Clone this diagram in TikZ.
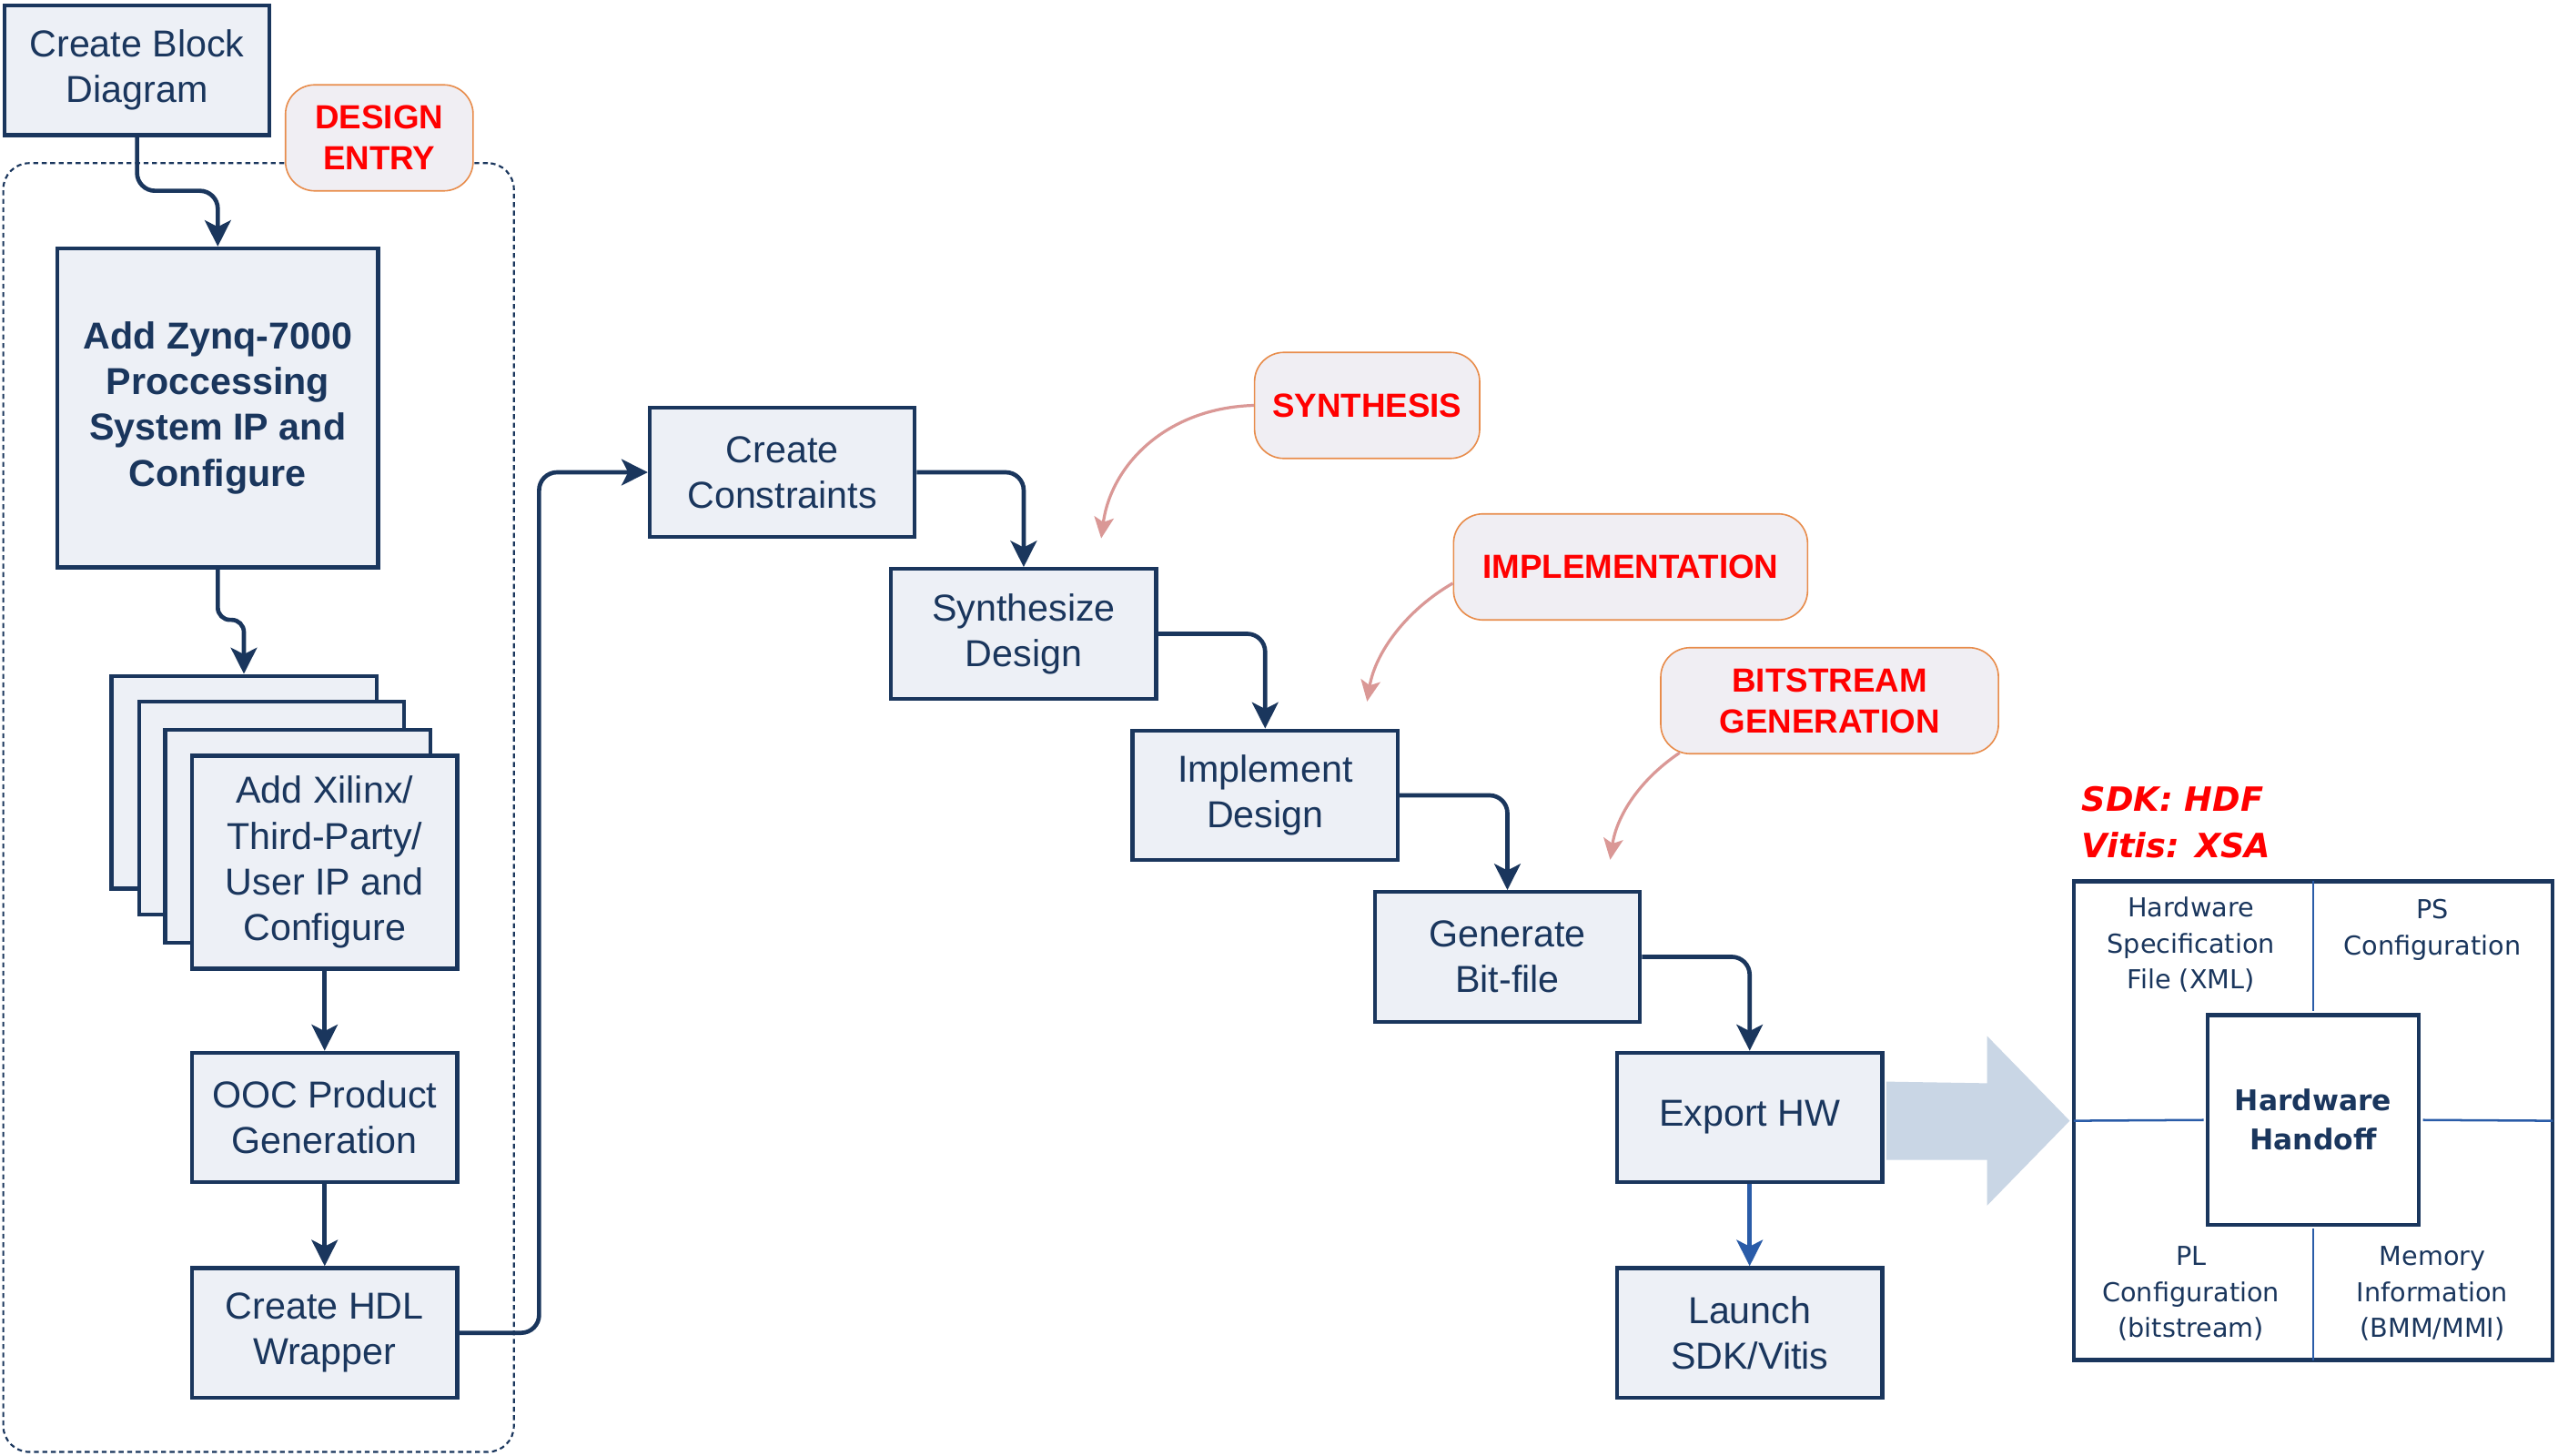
\documentclass[tikz,border=0pt]{standalone}
\usepackage{fontspec}
\setmainfont{Liberation Sans}
\newfontfamily\dvfont{DejaVu Sans}
\usetikzlibrary{arrows.meta,calc}
\definecolor{navy}{RGB}{26,54,93}
\definecolor{boxfill}{RGB}{237,240,246}
\definecolor{lblfill}{RGB}{240,238,243}
\definecolor{lblborder}{RGB}{232,140,75}
\definecolor{pinkarr}{RGB}{218,152,150}
\definecolor{bigarr}{RGB}{201,214,229}
\definecolor{midblue}{RGB}{42,92,168}
\begin{document}
\begin{tikzpicture}[x=1pt,y=-1pt,
  stepbox/.style={draw=navy, fill=boxfill, line width=2.4pt, minimum width=162.5pt, minimum height=79.5pt,
    inner sep=0pt, align=center, text=navy, font=\fontsize{23}{28}\selectfont},
  stackbox/.style={stepbox, minimum height=130.5pt},
  conn/.style={draw=navy, line width=2.6pt, -{Stealth[length=16pt,width=16pt,inset=4pt]}, rounded corners=11pt},
  lbl/.style={draw=lblborder, line width=0.9pt, fill=lblfill, rounded corners=18pt, text=red,
    font=\bfseries\fontsize{20.5}{25}\selectfont, align=center, inner sep=0pt, minimum height=65pt},
  pinkconn/.style={draw=pinkarr, line width=1.8pt, -{Stealth[length=13pt,width=12pt,inset=3pt]}},
  grpbox/.style={draw=navy, line width=1.2pt, dash pattern=on 3pt off 2.2pt, rounded corners=16pt},
  quad/.style={text=navy, align=center, inner sep=0pt, font=\dvfont\fontsize{16}{22}\selectfont},
  thinline/.style={draw=midblue, line width=1.4pt, shorten <=1.2pt, shorten >=1.2pt}
]
\useasboundingbox[fill=white] (0,0) rectangle (1568,892);

% group of design entry
\node[grpbox, minimum width=313pt, minimum height=790pt] (grp) at (158.5,495) {};

% left column
\node[stepbox] (cbd) at (84,43) {Create Block\\Diagram};
\node[lbl, minimum width=115pt] (de) at (232.5,84.5) {DESIGN\\ENTRY};
\node[stepbox, minimum width=196.5pt, minimum height=195.5pt, font=\bfseries\fontsize{23}{28}\selectfont] (zynq) at (133.5,250)
  {Add Zynq-7000\\Proccessing\\System IP and\\Configure};
\node[stackbox] (s1) at (149.5,479.5) {};
\node[stackbox] (s2) at (166.5,495.5) {};
\node[stackbox] (s3) at (182.5,512.5) {};
\node[stackbox] (s4) at (199,528.5) {Add Xilinx/\\Third-Party/\\User IP and\\Configure};
\node[stepbox] (ooc) at (199,685) {OOC Product\\Generation};
\node[stepbox] (hdl) at (199,817) {Create HDL\\Wrapper};

% staircase
\node[stepbox] (cc) at (479.5,289.5) {Create\\Constraints};
\node[stepbox] (sd) at (627.5,388.5) {Synthesize\\Design};
\node[stepbox] (id) at (775.5,487.5) {Implement\\Design};
\node[stepbox] (gb) at (924,586.5) {Generate\\Bit-file};
\node[stepbox] (exp) at (1072.5,685) {Export HW};
\node[stepbox] (lau) at (1072.5,817) {Launch\\SDK/Vitis};

% phase labels
\node[lbl, minimum width=138pt] (syn) at (838,248.5) {SYNTHESIS};
\node[lbl, minimum width=217pt] (imp) at (999.5,347.5) {IMPLEMENTATION};
\node[lbl, minimum width=207pt] (bit) at (1121.5,429.5) {BITSTREAM\\GENERATION};

% connectors
\draw[conn] (cbd.south) -- ++(0,33) -| (zynq.north);
\draw[conn, rounded corners=7.5pt] (zynq.south) -- ++(0,31) -| (s1.north);
\draw[conn] (s4.south) -- (ooc.north);
\draw[conn] (ooc.south) -- (hdl.north);
\draw[conn] (hdl.east) -- ++(49,0) |- (cc.west);
\draw[conn] (cc.east) -| (sd.north);
\draw[conn] (sd.east) -| (id.north);
\draw[conn] (id.east) -| (gb.north);
\draw[conn] (gb.east) -| (exp.north);
\draw[conn, draw=midblue, color=midblue] (exp.south) -- (lau.north);

% pink pointers
\coordinate (syntip) at (675,330);
\coordinate (imptip) at (838,430);
\coordinate (bittip) at (987,527);
\draw[pinkconn] (syn.west) .. controls (715,250) and (681,285) .. (syntip);
\draw[pinkconn] ([yshift=-10pt]imp.west) .. controls (862,374) and (843,400) .. (imptip);
\draw[pinkconn] ([xshift=12pt,yshift=1pt]bit.south west) .. controls (1005,478) and (991,500) .. (bittip);

% hardware handoff
\node[draw=navy, line width=2.5pt, fill=white, minimum width=293.5pt, minimum height=293.5pt, inner sep=0pt] (hw) at (1418,687) {};
\node[draw=navy, line width=2.5pt, fill=white, minimum width=129.5pt, minimum height=128.5pt, inner sep=0pt,
  text=navy, align=center, font=\dvfont\bfseries\fontsize{17.5}{24}\selectfont] (hh) at (1418,686.5) {Hardware\\Handoff};
\draw[thinline] (hw.north) -- (hh.north);
\draw[thinline] (hh.south) -- (hw.south);
\draw[thinline] (hw.west) -- (hh.west);
\draw[thinline] (hh.east) -- (hw.east);
\node[quad] (hsf) at (1343,579) {Hardware\\Specification\\File (XML)};
\node[quad] (psc) at (1491,570) {PS\\Configuration};
\node[quad] (plc) at (1343,793) {PL\\Configuration\\(bitstream)};
\node[quad] (mem) at (1491,793) {Memory\\Information\\(BMM/MMI)};
\node[anchor=west, text=red, align=left, inner sep=0pt, font=\dvfont\bfseries\itshape\fontsize{20.5}{28}\selectfont] (sdk) at (1276,504) {SDK: HDF\\Vitis: XSA};

% big arrow
\fill[bigarr] ($(exp.east)+(1.3,-22)$) -- ($(hw.west)+(-52,-23)$) -- ($(hw.west)+(-52,-52)$) -- ($(hw.west)+(-1.3,0)$)
  -- ($(hw.west)+(-52,52)$) -- ($(hw.west)+(-52,24)$) -- ($(exp.east)+(1.3,26)$) -- cycle;
\end{tikzpicture}
\end{document}
